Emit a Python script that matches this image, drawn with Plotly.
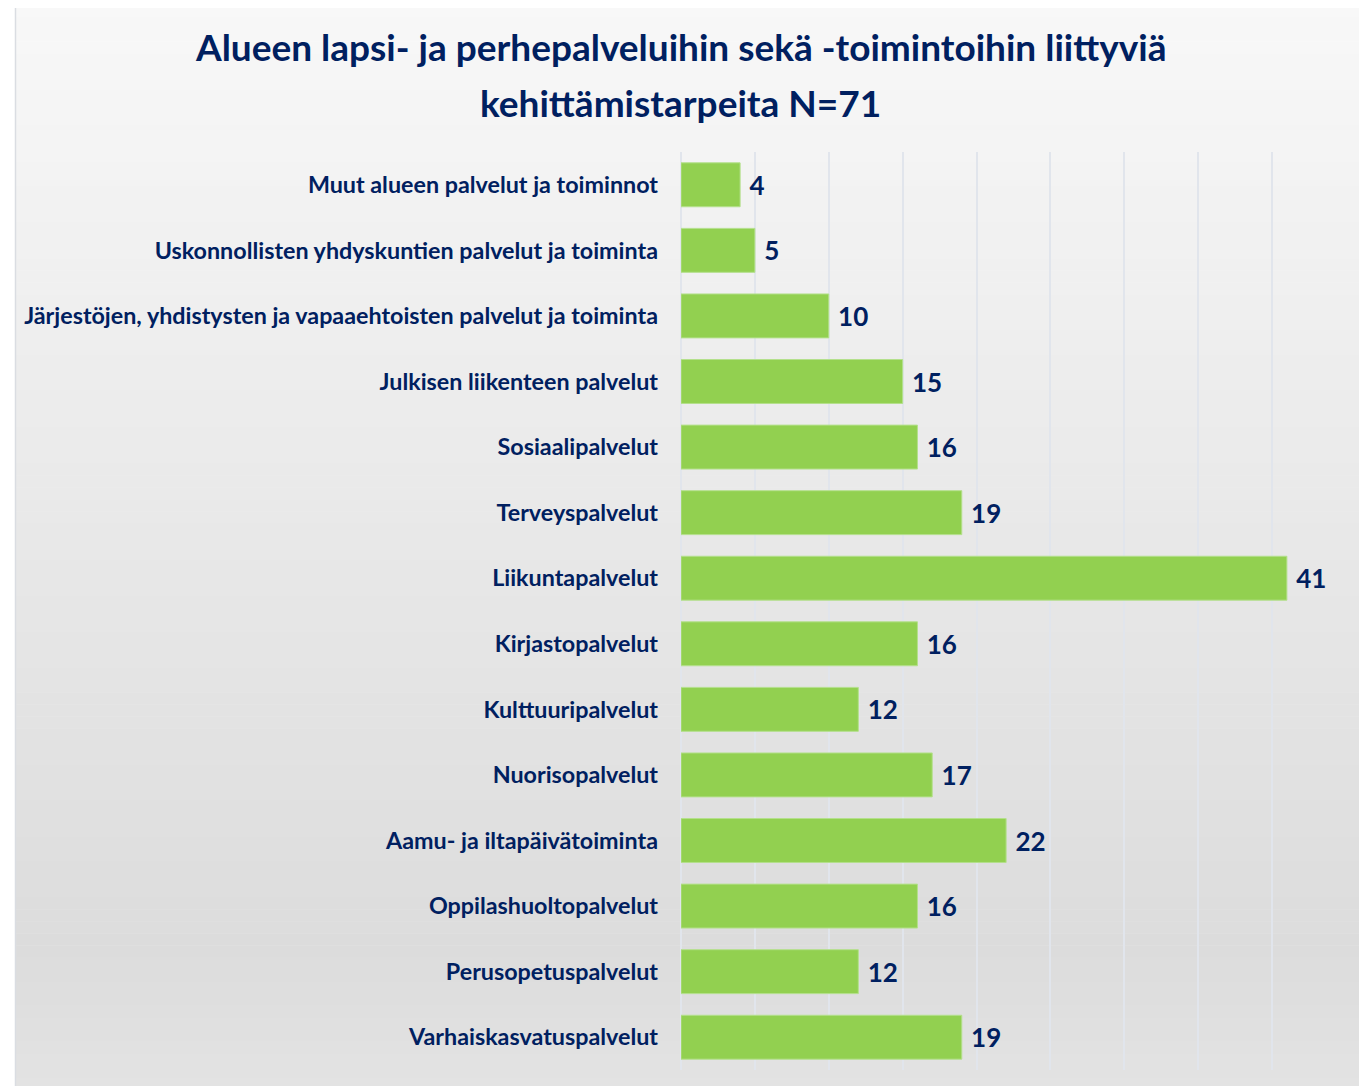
import plotly.graph_objects as go

categories = [
    "Muut alueen palvelut ja toiminnot",
    "Uskonnollisten yhdyskuntien palvelut ja toiminta",
    "Järjestöjen, yhdistysten ja vapaaehtoisten palvelut ja toiminta",
    "Julkisen liikenteen palvelut",
    "Sosiaalipalvelut",
    "Terveyspalvelut",
    "Liikuntapalvelut",
    "Kirjastopalvelut",
    "Kulttuuripalvelut",
    "Nuorisopalvelut",
    "Aamu- ja iltapäivätoiminta",
    "Oppilashuoltopalvelut",
    "Perusopetuspalvelut",
    "Varhaiskasvatuspalvelut",
]
values = [4, 5, 10, 15, 16, 19, 41, 16, 12, 17, 22, 16, 12, 19]

title_lines = ["Alueen lapsi- ja perhepalveluihin sekä -toimintoihin liittyviä",
               "kehittämistarpeita N=71"]

OFF = 8  # page body margin
W, H = 1367 - OFF, 1086 - OFF
ML, MT = 681 - OFF, 152 - OFF
PR, PB = 1346 - OFF, 1070 - OFF
MR, MB = W - PR, H - PB
PW = W - ML - MR
PH = H - MT - MB

NAVY = "#002060"
FONT = "Lato"


def sx(px):  # screen px -> paper x
    return (px - OFF - ML) / PW


def sy(py):  # screen py -> paper y
    return (H - MB - (py - OFF)) / PH


def hex_lerp(c1, c2, t):
    a = [int(c1[i:i + 2], 16) for i in (1, 3, 5)]
    b = [int(c2[i:i + 2], 16) for i in (1, 3, 5)]
    return "#" + "".join(f"{round(a[k] + (b[k] - a[k]) * t):02x}" for k in range(3))


shapes = []
top_y, bot_y = 5, 1090
stops = [(5, "#f8f8f8"), (950, "#dcdcdc"), (1090, "#e3e3e3")]
n = 90
for i in range(n):
    y0 = top_y + (bot_y - top_y) * i / n
    y1 = top_y + (bot_y - top_y) * (i + 1) / n + 0.5
    ym = (y0 + y1) / 2
    col = stops[-1][1]
    for j in range(len(stops) - 1):
        if stops[j][0] <= ym <= stops[j + 1][0]:
            t = (ym - stops[j][0]) / (stops[j + 1][0] - stops[j][0])
            col = hex_lerp(stops[j][1], stops[j + 1][1], t)
            break
    shapes.append(dict(type="rect", xref="paper", yref="paper",
                       x0=sx(15), x1=sx(1365), y0=sy(y1), y1=sy(y0),
                       fillcolor=col, line=dict(width=0), layer="below"))
shapes.append(dict(type="rect", xref="paper", yref="paper",
                   x0=sx(15.5), x1=sx(1365), y0=sy(1095), y1=sy(5.5),
                   fillcolor="rgba(0,0,0,0)", line=dict(color="#dadde2", width=1.5),
                   layer="below"))

annotations = []
for line, ypx in zip(title_lines, [47, 102]):
    annotations.append(dict(text=line, xref="paper", yref="paper",
                            x=sx(680), y=sy(ypx), xanchor="center", yanchor="middle",
                            showarrow=False,
                            font=dict(family=FONT, size=37, color=NAVY, weight="bold")))

fig = go.Figure()
fig.add_trace(go.Bar(
    x=values, y=categories, orientation="h",
    marker=dict(color="#92d050", line=dict(color="#b4e08c", width=1)),
    text=values, texttemplate=" %{x}", textposition="outside",
    textfont=dict(family=FONT, size=26, color=NAVY, weight="bold"),
    cliponaxis=False,
    hoverinfo="skip",
))

fig.update_layout(
    width=W, height=H,
    margin=dict(l=ML, r=MR, t=MT, b=MB, pad=0),
    paper_bgcolor="white",
    plot_bgcolor="white",
    bargap=0.33,
    showlegend=False,
    shapes=shapes,
    annotations=annotations,
    xaxis=dict(range=[0, 45], dtick=5, showticklabels=False, showgrid=True,
               gridcolor="#e1e5ec", gridwidth=1.5, zeroline=True,
               zerolinecolor="#e1e5ec", zerolinewidth=1.5, showline=False, fixedrange=True),
    yaxis=dict(autorange="reversed", showgrid=False, showline=False, ticks="",
               ticklabelstandoff=22,
               tickfont=dict(family=FONT, size=23.3, color=NAVY, weight="bold")),
)

fig.write_html("out.html")
